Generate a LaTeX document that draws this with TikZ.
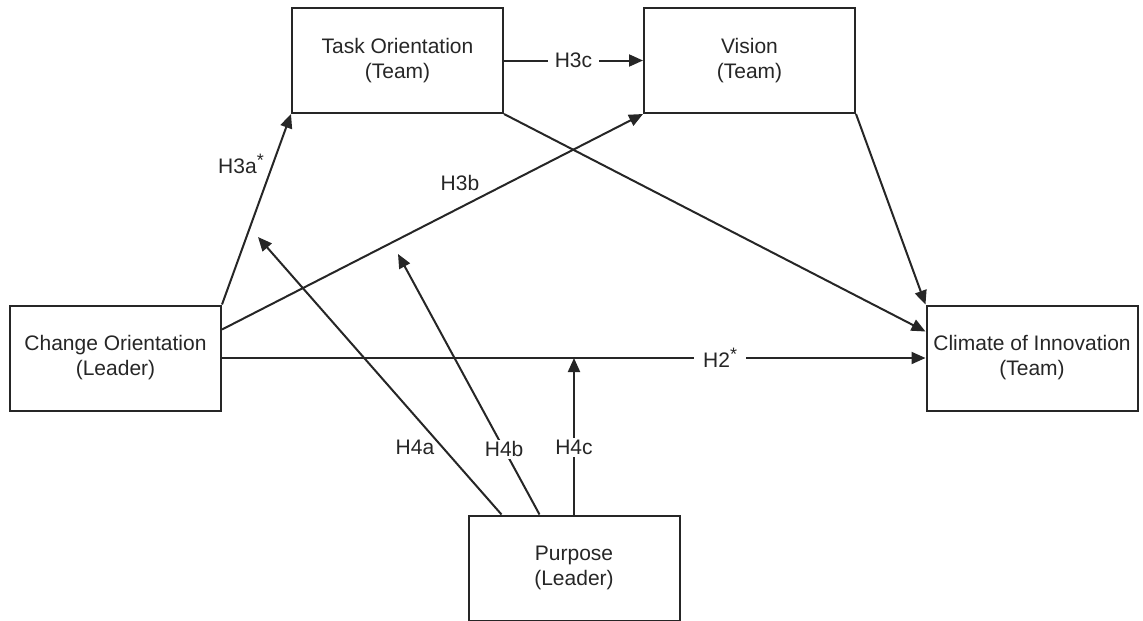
\documentclass[tikz,border=0pt]{standalone}
\usepackage{fontspec}
\setmainfont{Liberation Sans}
\usetikzlibrary{arrows.meta}
\begin{document}
\begin{tikzpicture}[x=1pt,y=-1pt,
  box/.style={draw=black!85, line width=2pt, minimum width=211pt, minimum height=105pt, align=center, inner sep=0pt, text=black!85, font=\fontsize{21}{25}\selectfont},
  conn/.style={draw=black!85, line width=2pt, -{Triangle[length=14pt,width=12pt]}},
  lab/.style={font=\fontsize{21}{25}\selectfont, text=black!85, inner sep=0pt},
  gaplab/.style={lab, fill=white, inner xsep=7pt, inner ysep=2pt}]
\useasboundingbox (0,0) rectangle (1143,621);
\node[box] (task) at (397.5,60.5) {Task Orientation\\(Team)};
\node[box] (vis) at (749.5,60.5) {Vision\\(Team)};
\node[box] (chg) at (115.5,358) {Change Orientation\\(Leader)};
\node[box] (cli) at (1032,358) {Climate of Innovation\\(Team)};
\node[box] (pur) at (574,568) {Purpose\\(Leader)};
% border points
\coordinate (chgB) at ([yshift=-25pt]chg.north east);
\coordinate (cliB) at ([yshift=-27pt]cli.north west);
\coordinate (p1) at ([xshift=34pt]pur.north west);
\coordinate (p2) at ([xshift=72pt]pur.north west);
\coordinate (p3) at (pur.north);
\coordinate (t4a) at (258,237);
\coordinate (t4b) at (398,254);
\coordinate (t4c) at (574,358);
% connectors
\draw[conn] (task.east) -- node[gaplab]{H3c} (vis.west);
\draw[conn] (chg.north east) -- (task.south west);
\draw[conn] (chgB) -- (vis.south west);
\draw[conn] (task.south east) -- (cliB);
\draw[conn] (vis.south east) -- (cli.north west);
\draw[conn] (chg.east) -- node[gaplab, pos=0.708, inner xsep=9pt]{H2\raisebox{7pt}{\fontsize{18}{18}\selectfont *}} (cli.west);
\draw[conn] (p1) -- (t4a);
\draw[conn] (p2) -- node[gaplab, pos=0.25]{H4b} (t4b);
\draw[conn] (p3) -- node[gaplab, pos=0.43]{H4c} (t4c);
% free labels
\node[lab] (l3a) at (241,164) {H3a\raisebox{7pt}{\fontsize{18}{18}\selectfont *}};
\node[lab] (l3b) at (460,183) {H3b};
\node[lab] (l4a) at (415,447) {H4a};
\end{tikzpicture}
\end{document}
